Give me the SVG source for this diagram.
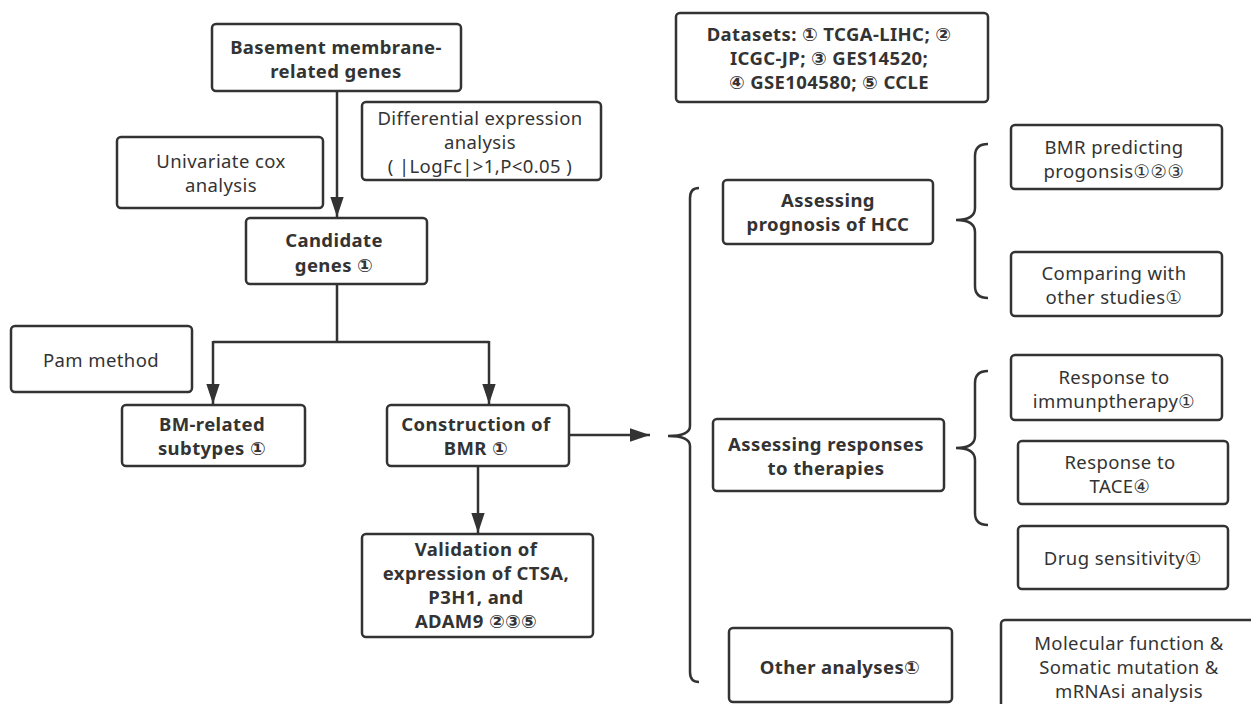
<svg xmlns="http://www.w3.org/2000/svg" width="1251" height="704" viewBox="0 0 1251 704">
<defs>
<marker id="ah" viewBox="0 0 12 8" refX="12" refY="4" markerWidth="8" markerHeight="5.4" markerUnits="strokeWidth" orient="auto">
<path d="M0,0 L12,4 L0,8 z" fill="#333"/>
</marker>
<style>
.box{fill:#fff;stroke:#333;stroke-width:2.5}
.b{font-family:"Noto Sans","DejaVu Sans",sans-serif;font-weight:bold;font-size:18.5px;letter-spacing:0.4px;fill:#333;text-anchor:middle}
.r{font-family:"Noto Sans","DejaVu Sans",sans-serif;font-size:18.5px;letter-spacing:0.4px;fill:#333;text-anchor:middle}
.ln{fill:none;stroke:#333;stroke-width:2.5}
</style>
</defs>
<rect width="1251" height="704" fill="#fff"/>
<g id="connectors">
<path class="ln" d="M337,91 V217" marker-end="url(#ah)"/>
<path class="ln" d="M337,284 V342 M213,342 H489"/>
<path class="ln" d="M213,341 V404" marker-end="url(#ah)"/>
<path class="ln" d="M489,341 V404" marker-end="url(#ah)"/>
<path class="ln" d="M478,466 V533" marker-end="url(#ah)"/>
<path class="ln" d="M569,435 H650" marker-end="url(#ah)"/>
<path class="ln" d="M699,188 Q690,188 690,198 V426 Q690,436 668,436 Q690,436 690,446 V672 Q690,682 699,682"/>
<path class="ln" d="M988,144 Q975,144 975,156 V208 Q975,220 956,220 Q975,220 975,232 V286 Q975,298 988,298"/>
<path class="ln" d="M988,371 Q975,371 975,383 V436 Q975,448 956,448 Q975,448 975,460 V513 Q975,525 988,525"/>
</g>
<g id="n-basement"><rect class="box" x="212" y="24" width="249" height="67" rx="4"/>
<text class="b" x="336" y="54">Basement membrane-</text><text class="b" x="336" y="78">related genes</text></g>
<g id="n-diff"><rect class="box" x="362" y="102" width="239" height="78" rx="4"/>
<text class="r" x="480" y="125">Differential expression</text><text class="r" x="480" y="149">analysis</text><text class="r" x="480" y="173">( |LogFc|&gt;1,P&lt;0.05 )</text></g>
<g id="n-univ"><rect class="box" x="117" y="137" width="206" height="71" rx="4"/>
<text class="r" x="221" y="168">Univariate cox</text><text class="r" x="221" y="192">analysis</text></g>
<g id="n-cand"><rect class="box" x="246" y="218" width="181" height="66" rx="4"/>
<text class="b" x="334" y="247">Candidate</text><text class="b" x="334" y="272">genes ①</text></g>
<g id="n-pam"><rect class="box" x="11" y="326" width="181" height="66" rx="4"/>
<text class="r" x="101" y="367">Pam method</text></g>
<g id="n-bmsub"><rect class="box" x="122" y="405" width="183" height="61" rx="4"/>
<text class="b" x="212" y="431">BM-related</text><text class="b" x="212" y="455">subtypes ①</text></g>
<g id="n-constr"><rect class="box" x="387" y="405" width="182" height="61" rx="4"/>
<text class="b" x="476" y="431">Construction of</text><text class="b" x="476" y="455">BMR ①</text></g>
<g id="n-valid"><rect class="box" x="362" y="534" width="231" height="103" rx="4"/>
<text class="b" x="476" y="556">Validation of</text><text class="b" x="476" y="580">expression of CTSA,</text><text class="b" x="476" y="604">P3H1, and</text><text class="b" x="476" y="628">ADAM9 ②③⑤</text></g>
<g id="n-datasets"><rect class="box" x="676" y="13" width="312" height="89" rx="4"/>
<text class="b" x="829" y="41">Datasets: ① TCGA-LIHC; ②</text><text class="b" x="829" y="65">ICGC-JP; ③ GES14520;</text><text class="b" x="829" y="89">④ GSE104580; ⑤ CCLE</text></g>
<g id="n-progn"><rect class="box" x="723" y="180" width="210" height="64" rx="4"/>
<text class="b" x="828" y="207">Assessing</text><text class="b" x="828" y="231">prognosis of HCC</text></g>
<g id="n-bmrpred"><rect class="box" x="1011" y="125" width="211" height="64" rx="4"/>
<text class="r" x="1114" y="154">BMR predicting</text><text class="r" x="1114" y="178">progonsis①②③</text></g>
<g id="n-compare"><rect class="box" x="1011" y="252" width="211" height="64" rx="4"/>
<text class="r" x="1114" y="280">Comparing with</text><text class="r" x="1114" y="304">other studies①</text></g>
<g id="n-resp"><rect class="box" x="713" y="419" width="231" height="72" rx="4"/>
<text class="b" x="826" y="451">Assessing responses</text><text class="b" x="826" y="475">to therapies</text></g>
<g id="n-immun"><rect class="box" x="1011" y="355" width="211" height="65" rx="4"/>
<text class="r" x="1114" y="384">Response to</text><text class="r" x="1114" y="408">immunptherapy①</text></g>
<g id="n-tace"><rect class="box" x="1018" y="441" width="210" height="63" rx="4"/>
<text class="r" x="1120" y="469">Response to</text><text class="r" x="1120" y="493">TACE④</text></g>
<g id="n-drug"><rect class="box" x="1018" y="526" width="210" height="63" rx="4"/>
<text class="r" x="1123" y="565">Drug sensitivity①</text></g>
<g id="n-other"><rect class="box" x="729" y="628" width="223" height="74" rx="4"/>
<text class="b" x="840" y="674">Other analyses①</text></g>
<g id="n-molec"><rect class="box" x="1001" y="620" width="262" height="100" rx="4"/>
<text class="r" x="1129" y="650">Molecular function &amp;</text><text class="r" x="1129" y="674">Somatic mutation &amp;</text><text class="r" x="1129" y="698">mRNAsi analysis</text></g>
</svg>
